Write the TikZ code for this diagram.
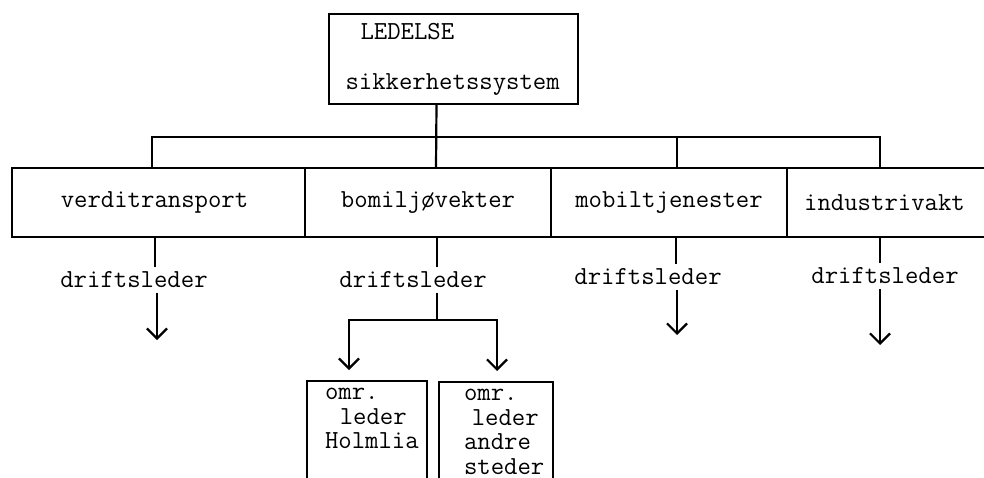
\documentclass[tikz,border=0pt]{standalone}
\usepackage{fontspec}
\usepackage{tikz}
\usetikzlibrary{arrows.meta,positioning}

\begin{document}
\begin{tikzpicture}
	[x=0.5pt,y=-0.5pt,>={Straight Barb[length=5pt,width=10pt]},line width=1.1pt,
		font=\ttfamily\fontsize{13}{12.3}\selectfont,
		unit box/.style={rectangle,draw,minimum height=34.5pt,inner sep=0pt,outer sep=0pt},
		leader text/.style={inner sep=2pt},
		area box/.style={rectangle,draw,anchor=north,align=left,text depth=40pt,inner ysep=3.5pt,outer sep=0pt}]

	\clip (0,0) rectangle (984,477);

	\node[rectangle,draw,align=left,text width=108pt,inner xsep=8.25pt,minimum height=45pt,outer sep=0pt] (L) at (453.5,59) {\hspace*{7.5pt}LEDELSE\\[12.7pt]sikkerhetssystem};

	\node[unit box,minimum width=146.5pt] (V) at (158.5,202.5) {verditransport\hspace*{4pt}};
	\node[unit box,minimum width=123pt,right=0pt of V] (B) {bomiljøvekter};
	\node[unit box,minimum width=118pt,right=0pt of B] (M) {mobiltjenester};
	\node[unit box,minimum width=106.5pt,right=0pt of M] (I) {industrivakt\hspace*{9pt}};

	\coordinate (bar) at (0,137);
	\draw ([xshift=-8.5pt]L.south) -- ([xshift=4pt]B.north);
	\draw ([xshift=-3.25pt]V.north) |- ([xshift=-6.75pt]I.north |- bar) -- ([xshift=-6.75pt]I.north);
	\draw ([xshift=4pt]M.north) -- ([xshift=4pt]M.north |- bar);

	\node[leader text] (d1) at (134,280) {driftsleder};
	\node[leader text] (d2) at (413,280) {driftsleder};
	\node[leader text] (d3) at (648,277) {driftsleder};
	\node[leader text] (d4) at (885,276) {driftsleder};

	\node[area box,text width=42pt,inner xsep=9pt] (H) at (367,381) {omr.\\\hspace*{0.57em}leder\\Holmlia};
	\node[area box,text width=32pt,inner xsep=12.5pt] (A) at (496,382) {omr.\\\hspace*{0.3em}leder\\andre\\steder};

	% verditransport
	\draw ([xshift=-1.75pt]V.south) -- ([xshift=-1.75pt]V.south |- d1.north);
	\coordinate (e1) at (157,340);
	\draw[->] (d1.south -| e1) -- (e1);

	% bomiljovekter
	\draw ([xshift=4.5pt]B.south) -- ([xshift=4.5pt]B.south |- d2.north);
	\coordinate (fork) at (437,320);
	\draw (d2.south -| fork) -- (fork);
	\draw[->,shorten >=5.5pt] (fork) -| ([xshift=-9pt]H.north);
	\draw[->,shorten >=5.5pt] (fork) -| ([xshift=0.5pt]A.north);

	% mobiltjenester
	\draw ([xshift=3.5pt]M.south) -- ([xshift=3.5pt]M.south |- d3.north);
	\coordinate (e3) at (677,335);
	\draw[->] (d3.south -| e3) -- (e3);

	% industrivakt
	\draw ([xshift=-6.75pt]I.south) -- ([xshift=-6.75pt]I.south |- d4.north);
	\coordinate (e4) at (880,345);
	\draw[->] (d4.south -| e4) -- (e4);
\end{tikzpicture}
\end{document}
